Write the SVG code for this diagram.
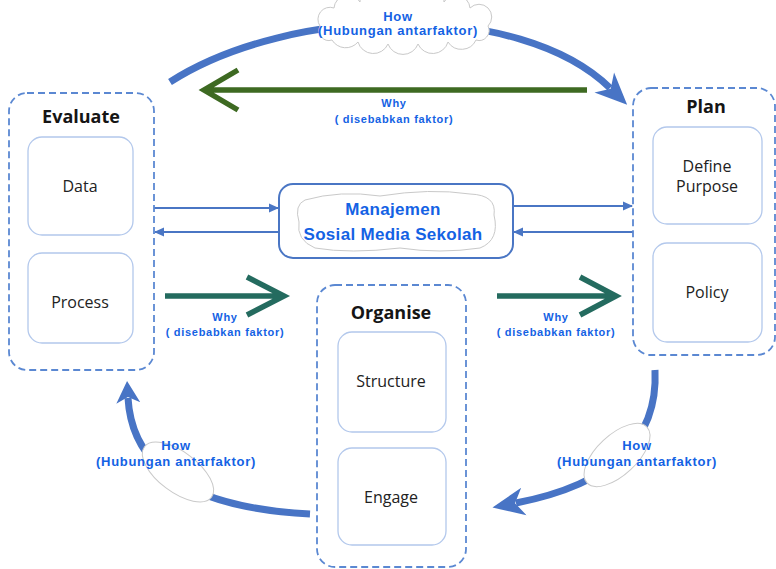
<svg xmlns="http://www.w3.org/2000/svg" width="776" height="569" viewBox="0 0 776 569">
<style>
.stage{fill:none;stroke:#5B88D2;stroke-width:1.8;stroke-dasharray:7 4}
.inner{fill:#fff;stroke:#B3C8EC;stroke-width:1.3}
.title{font-family:"Open Sans","Liberation Sans",sans-serif;font-weight:bold;font-size:18px;fill:#151515;text-anchor:middle}
.item{font-family:"Open Sans","Liberation Sans",sans-serif;font-size:16px;fill:#222;text-anchor:middle}
.lbl{font-family:"Liberation Sans",Arial,sans-serif;font-weight:bold;fill:#1462E4;text-anchor:middle}
.why{font-size:11px;letter-spacing:0.7px}
.how{font-size:13px;letter-spacing:0.7px}
.arc{fill:none;stroke:#4874C5;stroke-width:7}
.thin{fill:none;stroke:#4A76C4;stroke-width:2}
.cloud{fill:#fff;stroke:#C9C9C9;stroke-width:1}
</style>
<defs>
<marker id="bigHead" markerUnits="userSpaceOnUse" markerWidth="34" markerHeight="34" viewBox="0 0 34 34" refX="8" refY="17" orient="auto">
<path d="M0,3 L32,17 L0,31 L9,17 Z" fill="#4874C5"/>
</marker>
<marker id="smallHead" markerUnits="userSpaceOnUse" markerWidth="26" markerHeight="26" viewBox="0 0 26 26" refX="5" refY="13" orient="auto">
<path d="M0,1 L22,13 L0,25 L6,13 Z" fill="#4874C5"/>
</marker>
<marker id="thinHead" markerUnits="userSpaceOnUse" markerWidth="10" markerHeight="10" viewBox="0 0 10 10" refX="9" refY="5" orient="auto">
<path d="M0,0.5 L10,5 L0,9.5 Z" fill="#4A76C4"/>
</marker>
</defs>
<rect width="776" height="569" fill="#fff"/>

<g id="connectors">
<path class="arc" d="M170,82 C290,5 520,0 610,88" marker-end="url(#bigHead)"/>
<path class="arc" d="M655,370 Q660,475 516,503" marker-end="url(#bigHead)"/>
<path class="arc" d="M310,514 Q134,505 128,398" marker-end="url(#smallHead)"/>
<path d="M587,90 H204 M238,70 L204,90 L238,110" fill="none" stroke="#3E6A22" stroke-width="5.5"/>
<path d="M165,296 H284 M247,277 L284,296 L247,315" fill="none" stroke="#246B5F" stroke-width="5.5"/>
<path d="M497,296 H616 M580,277 L616,296 L580,315" fill="none" stroke="#246B5F" stroke-width="5.5"/>
<path class="thin" d="M154,208 H278" marker-end="url(#thinHead)"/>
<path class="thin" d="M279,232 H155" marker-end="url(#thinHead)"/>
<path class="thin" d="M513,206 H632" marker-end="url(#thinHead)"/>
<path class="thin" d="M633,232 H514" marker-end="url(#thinHead)"/>
<path class="cloud" d="M320,26 A12,12 0 0 1 334,8 A14,14 0 0 1 360,2 A14,14 0 0 1 388,-2 A14,14 0 0 1 416,-2 A14,14 0 0 1 444,2 A14,14 0 0 1 470,8 A12,12 0 0 1 488,26 A10,10 0 0 1 476,40 A16,16 0 0 1 448,42 A16,16 0 0 1 418,44 A16,16 0 0 1 388,44 A16,16 0 0 1 358,42 A16,16 0 0 1 332,40 A10,10 0 0 1 320,26 Z"/>
<ellipse class="cloud" cx="178" cy="472" rx="42" ry="20" transform="rotate(37 178 472)"/>
<ellipse class="cloud" cx="617" cy="455" rx="41" ry="20" transform="rotate(-43 617 455)"/>
<text class="lbl how" x="398" y="21">How</text>
<text class="lbl how" x="398" y="35">(Hubungan antarfaktor)</text>
<text class="lbl why" x="394" y="107">Why</text>
<text class="lbl why" x="394" y="123">( disebabkan faktor)</text>
<text class="lbl why" x="225" y="321">Why</text>
<text class="lbl why" x="225" y="336">( disebabkan faktor)</text>
<text class="lbl why" x="556" y="321">Why</text>
<text class="lbl why" x="556" y="336">( disebabkan faktor)</text>
<text class="lbl how" x="176" y="450">How</text>
<text class="lbl how" x="176" y="466">(Hubungan antarfaktor)</text>
<text class="lbl how" x="637" y="450">How</text>
<text class="lbl how" x="637" y="466">(Hubungan antarfaktor)</text>
</g>

<g id="evaluate">
<rect class="stage" x="9" y="93" width="145" height="277" rx="18"/>
<text class="title" x="81" y="123">Evaluate</text>
<rect class="inner" x="28" y="137" width="105" height="98" rx="14"/>
<text class="item" x="80" y="192">Data</text>
<rect class="inner" x="28" y="253" width="105" height="90" rx="14"/>
<text class="item" x="80" y="308">Process</text>
</g>

<g id="plan">
<rect class="stage" x="633" y="88" width="142" height="267" rx="18"/>
<text class="title" x="706" y="113">Plan</text>
<rect class="inner" x="653" y="127" width="109" height="97" rx="14"/>
<text class="item" x="707" y="172">Define</text>
<text class="item" x="707" y="192">Purpose</text>
<rect class="inner" x="653" y="243" width="109" height="99" rx="14"/>
<text class="item" x="707" y="298">Policy</text>
</g>

<g id="organise">
<rect class="stage" x="317" y="285" width="149" height="282" rx="18"/>
<text class="title" x="391" y="319">Organise</text>
<rect class="inner" x="338" y="332" width="108" height="100" rx="14"/>
<text class="item" x="391" y="387">Structure</text>
<rect class="inner" x="338" y="448" width="108" height="97" rx="14"/>
<text class="item" x="391" y="503">Engage</text>
</g>

<g id="manajemen">
<rect x="279" y="184" width="234" height="74" rx="14" fill="#fff" stroke="#4A76C4" stroke-width="2"/>
<path class="cloud" d="M305,200 Q340,190 380,196 Q430,188 470,194 Q497,195 494,215 Q500,240 480,248 Q440,254 400,248 Q350,254 315,248 Q296,240 299,222 Q294,205 305,200 Z" stroke="#D2D2D2"/>
<text class="lbl" x="393" y="215" font-size="17" letter-spacing="0.3">Manajemen</text>
<text class="lbl" x="393" y="240" font-size="17" letter-spacing="0.3">Sosial Media Sekolah</text>
</g>
</svg>
